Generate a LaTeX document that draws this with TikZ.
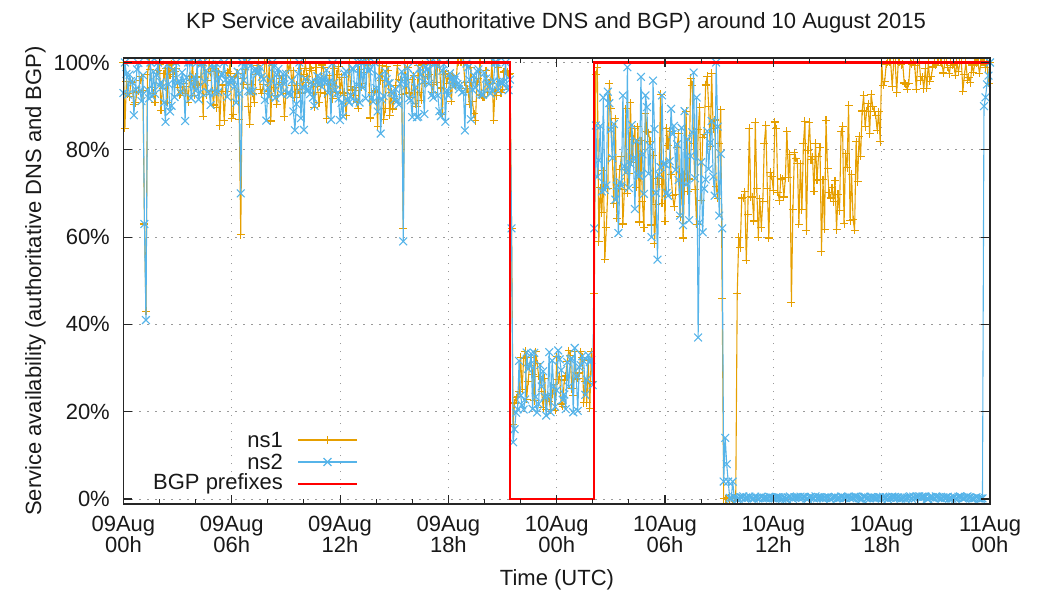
\documentclass[tikz,border=0pt]{standalone}
\usepackage{fontspec}
\setmainfont{Liberation Sans}
\definecolor{nsone}{HTML}{E69F00}
\definecolor{nstwo}{HTML}{56B4E9}
\definecolor{bgpred}{HTML}{FF0000}
\definecolor{gridgray}{HTML}{9A9A9A}
\begin{document}
\begin{tikzpicture}[x=1pt,y=1pt,
  lbl/.style={font=\fontsize{22}{21}\selectfont, inner sep=0pt, text=black!90},
  gridline/.style={gridgray, line width=0.9pt, dash pattern=on 1.2pt off 6.8pt},
  frameline/.style={black!85, line width=1.3pt},
  tickline/.style={black!85, line width=1.1pt},
  nsoneline/.style={nsone, line width=1.1pt, line join=round, mark=+, mark size=4pt, mark options={solid, line width=1.1pt}},
  nstwoline/.style={nstwo, line width=1.1pt, line join=round, mark=x, mark size=5.5pt, mark options={solid, line width=1.1pt}},
  bgpline/.style={bgpred, line width=2.6pt, line join=miter},
]
\useasboundingbox (0,0) rectangle (1041,590);

% ---------- synthetic measurement series (5 min steps) ----------
\pgfmathsetseed{20150810}
\gdef\dataA{}\gdef\dataB{}
\foreach \i in {0,...,576}{%
  \pgfmathsetmacro\h{\i/12}%
  \ifnum\i<258
    \pgfmathsetmacro\va{min(100,101.5-9*rnd-10*rnd^4)}%
    \pgfmathsetmacro\vb{min(100,101.5-9*rnd-10*rnd^4)}%
  \fi
  \ifnum\i>257 \ifnum\i<313
    \pgfmathsetmacro\va{20+14*rnd}%
    \pgfmathsetmacro\vb{19+16*rnd}%
  \fi\fi
  \ifnum\i>312 \ifnum\i<410
    \pgfmathsetmacro\va{min(100,102-26*rnd-26*rnd)}%
    \pgfmathsetmacro\vb{min(100,103-26*rnd-26*rnd)}%
  \fi\fi
  \ifnum\i>409 \ifnum\i<492
    \pgfmathsetmacro\va{53+20*rnd+20*rnd}%
  \fi\fi
  \ifnum\i>491 \ifnum\i<504
    \pgfmathsetmacro\va{80+10*rnd+9*rnd}%
  \fi\fi
  \ifnum\i>503
    \pgfmathsetmacro\va{min(100,101.5-9*rnd^2)}%
  \fi
  \ifnum\i>402
    \pgfmathsetmacro\vb{0.6*rnd}%
  \fi
  \ifnum\i>398 \ifnum\i<408
    \pgfmathsetmacro\va{0.4*rnd}%
  \fi\fi
  % particular points of ns1
  \ifnum\i=14 \def\va{63}\fi
  \ifnum\i=15 \def\va{43}\fi
  \ifnum\i=78 \def\va{60.5}\fi
  \ifnum\i=186 \def\va{62}\fi
  \ifnum\i=258 \def\va{62}\fi
  \ifnum\i=259 \def\va{17}\fi
  \ifnum\i=260 \def\va{22}\fi
  \ifnum\i=313 \def\va{47}\fi
  \ifnum\i=398 \def\va{46}\fi
  \ifnum\i=408 \def\va{47}\fi
  \ifnum\i=409 \def\va{60}\fi
  \ifnum\i=422 \def\va{60}\fi
  \ifnum\i=444 \def\va{45}\fi
  % particular points of ns2
  \ifnum\i=14 \def\vb{63}\fi
  \ifnum\i=15 \def\vb{41}\fi
  \ifnum\i=78 \def\vb{70}\fi
  \ifnum\i=186 \def\vb{59}\fi
  \ifnum\i=258 \def\vb{62}\fi
  \ifnum\i=259 \def\vb{13}\fi
  \ifnum\i=260 \def\vb{16}\fi
  \ifnum\i=313 \def\vb{62}\fi
  \ifnum\i=382 \def\vb{37}\fi
  \ifnum\i=394 \def\vb{100}\fi
  \ifnum\i=398 \def\vb{62}\fi
  \ifnum\i=399 \def\vb{4}\fi
  \ifnum\i=400 \def\vb{14}\fi
  \ifnum\i=401 \def\vb{8}\fi
  \ifnum\i=402 \def\vb{4}\fi
  \ifnum\i=405 \def\vb{4}\fi
  \ifnum\i=572 \def\vb{90}\fi
  \ifnum\i=573 \def\vb{92}\fi
  \ifnum\i=574 \def\vb{95}\fi
  \ifnum\i=575 \def\vb{97}\fi
  \ifnum\i=576 \def\vb{100}\fi
  \xdef\dataA{\dataA (\h,\va)}%
  \xdef\dataB{\dataB (\h,\vb)}%
}

% ---------- title and axis labels ----------
\node[lbl, anchor=base] (title) at (556,561.7) {KP Service availability (authoritative DNS and BGP) around 10 August 2015};
\node[lbl, anchor=base] (xlab) at (557,4.5) {Time (UTC)};
\node[lbl, rotate=90] (ylab) at (35.5,309) {Service availability (authoritative DNS and BGP)};

\begin{scope}[shift={(123.4pt,91pt)}, x=18.054pt, y=4.365pt]
  % grid
  \foreach \h in {6,12,...,42}{\draw[gridline] (\h,-1.15) -- (\h,101);}
  \foreach \p in {0,20,...,100}{\draw[gridline] (0,\p) -- (48,\p);}
  % data
  \edef\plotA{\noexpand\draw[nsoneline] plot coordinates {\dataA};}
  \plotA
  \edef\plotB{\noexpand\draw[nstwoline] plot coordinates {\dataB};}
  \plotB
  % BGP prefixes
  \draw[bgpline] (0,100) -- (21.42,100) -- (21.42,0) -- (26.07,0) -- (26.07,100) -- (48,100);
  % frame
  \draw[frameline] (0,-1.15) rectangle (48,101);
  % ticks
  \foreach \h in {2,4,...,46}{
    \draw[tickline] (\h,-1.15) -- ++(0,5pt);
    \draw[tickline] (\h,101) -- ++(0,-5pt);
  }
  \foreach \h in {0,6,...,48}{
    \draw[tickline] (\h,-1.15) -- ++(0,9pt);
    \draw[tickline] (\h,101) -- ++(0,-9pt);
  }
  \foreach \p in {0,20,...,100}{
    \draw[tickline] (0,\p) -- ++(9pt,0);
    \draw[tickline] (48,\p) -- ++(-9pt,0);
    \node[lbl, anchor=east] (yl\p) at ([xshift=-13.4pt]0,\p) {\p\%};
  }
  \foreach \h/\d/\t in {0/09Aug/00h, 6/09Aug/06h, 12/09Aug/12h, 18/09Aug/18h, 24/10Aug/00h, 30/10Aug/06h, 36/10Aug/12h, 42/10Aug/18h, 48/11Aug/00h}{
    \node[lbl, anchor=north, align=center] (xl\h) at ([yshift=-12pt]\h,-1.15) {\d\\\t};
  }
\end{scope}

% ---------- legend ----------
\node[lbl, anchor=east] (legA) at (283,150) {ns1};
\node[lbl, anchor=east] (legB) at (283,128) {ns2};
\node[lbl, anchor=east] (legC) at (283,106) {BGP prefixes};
\coordinate (legAs) at (298,150); \coordinate (legAe) at (357,150);
\coordinate (legBs) at (298,128); \coordinate (legBe) at (357,128);
\coordinate (legCs) at (298,106); \coordinate (legCe) at (357,106);
\draw[nsone, line width=1.1pt] (legAs) -- (legAe);
\draw[nsoneline] plot coordinates {(327.5,150)};
\draw[nstwo, line width=1.1pt] (legBs) -- (legBe);
\draw[nstwoline] plot coordinates {(327.5,128)};
\draw[bgpred, line width=2.6pt] (legCs) -- (legCe);
\end{tikzpicture}
\end{document}
